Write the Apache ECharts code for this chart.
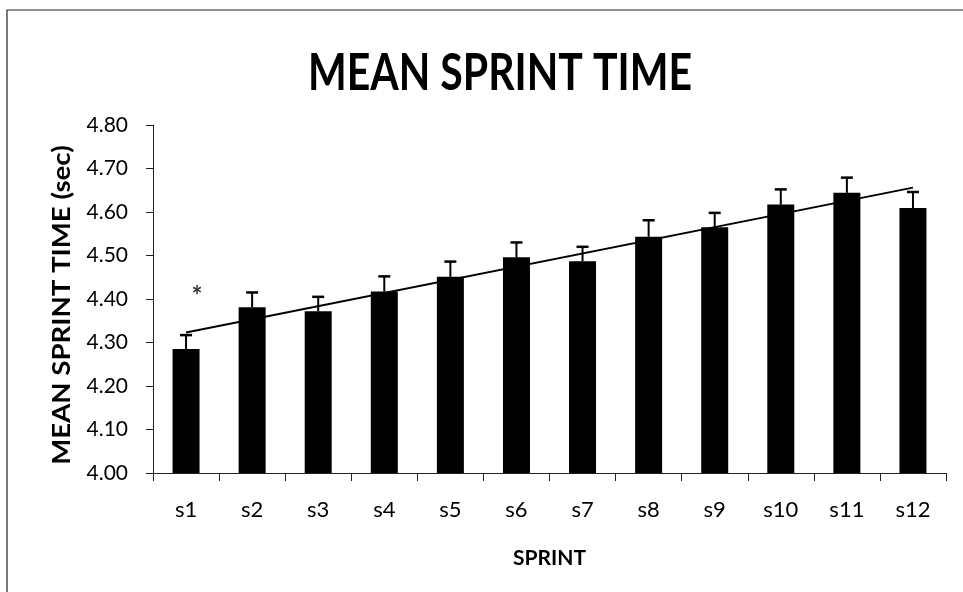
<!DOCTYPE html>
<html>
<head>
<meta charset="utf-8">
<script src="https://cdn.jsdelivr.net/npm/echarts@6/dist/echarts.min.js"></script>
<style>html,body{margin:0;padding:0;background:#fff}#c{width:963px;height:592px}</style>
</head>
<body>
<div id="c"></div>
<script>
const categories = ['s1','s2','s3','s4','s5','s6','s7','s8','s9','s10','s11','s12'];
const meanTime = [4.285, 4.381, 4.372, 4.417, 4.451, 4.496, 4.487, 4.543, 4.565, 4.617, 4.644, 4.609];
const errUpper = [0.032, 0.034, 0.033, 0.035, 0.035, 0.034, 0.033, 0.038, 0.033, 0.035, 0.035, 0.037];
const trendPoints = [['s1', 4.323], ['s12', 4.656]];
const markers = [['s1', 4.416, '*']];
const yMin = 4.0, yMax = 4.8, yStep = 0.1;
const titleText = 'MEAN SPRINT TIME';
const yName = 'MEAN SPRINT TIME (sec)';
const xName = 'SPRINT';

const FONT = 'Lato, "Open Sans", sans-serif';
const chart = echarts.init(document.getElementById('c'), null, {renderer: 'canvas'});

const errData = meanTime.map((v, i) => [i, v, v + errUpper[i]]);

chart.setOption({
  backgroundColor: '#fff',
  animation: false,
  graphic: [
    {type: 'rect', shape: {x: 7, y: 10, width: 1000, height: 700}, style: {fill: 'none', stroke: '#222', lineWidth: 1.2}, silent: true},
    {type: 'text', x: 500, y: 73, scaleY: 1.28, style: {text: titleText, fontFamily: FONT, fontWeight: 'bold', fontSize: 41, fill: '#000', align: 'center', verticalAlign: 'middle'}},
    {type: 'text', x: 62, y: 305, rotation: Math.PI / 2, scaleX: 1.15, style: {text: yName, fontFamily: FONT, fontWeight: 'bold', fontSize: 24, fill: '#000', align: 'center', verticalAlign: 'middle'}}
  ],
  grid: {left: 153, right: 17, top: 125, bottom: 119, containLabel: false, outerBoundsMode: 'none'},
  xAxis: {
    type: 'category',
    data: categories,
    name: xName,
    nameLocation: 'middle',
    nameGap: 75,
    nameTextStyle: {fontFamily: FONT, fontWeight: 'bold', fontSize: 21, color: '#000'},
    axisLine: {lineStyle: {color: '#222', width: 1}},
    axisTick: {show: true, length: 8, lineStyle: {color: '#222'}},
    axisLabel: {fontFamily: FONT, fontSize: 22, color: '#000', margin: 26}
  },
  yAxis: {
    type: 'value',
    min: yMin, max: yMax, interval: yStep,
    axisLine: {show: true, lineStyle: {color: '#222', width: 1}},
    axisTick: {show: true, length: 7, lineStyle: {color: '#222'}},
    splitLine: {show: false},
    axisLabel: {fontFamily: FONT, fontSize: 21, color: '#000', margin: 25, formatter: v => v.toFixed(2)}
  },
  series: [
    {
      type: 'bar',
      data: meanTime,
      barWidth: 27,
      itemStyle: {color: '#000'},
      z: 2
    },
    {
      type: 'line',
      data: trendPoints,
      symbol: 'none',
      lineStyle: {color: '#000', width: 2},
      z: 3
    },
    {
      type: 'custom',
      data: errData,
      z: 4,
      renderItem: function (params, api) {
        const base = api.coord([api.value(0), api.value(1)]);
        const top = api.coord([api.value(0), api.value(2)]);
        const cap = 6;
        return {
          type: 'group',
          children: [
            {type: 'line', shape: {x1: base[0], y1: base[1], x2: top[0], y2: top[1]}, style: {stroke: '#000', lineWidth: 2}},
            {type: 'line', shape: {x1: top[0] - cap, y1: top[1], x2: top[0] + cap, y2: top[1]}, style: {stroke: '#000', lineWidth: 2.5}}
          ]
        };
      }
    },
    {
      type: 'scatter',
      data: markers,
      symbolSize: 1,
      itemStyle: {color: 'rgba(0,0,0,0)'},
      label: {show: true, formatter: p => p.data[2], position: 'inside', offset: [11, 5], fontFamily: FONT, fontWeight: 'bold', fontSize: 26, color: '#000'},
      z: 5
    }
  ]
});
</script>
</body>
</html>
